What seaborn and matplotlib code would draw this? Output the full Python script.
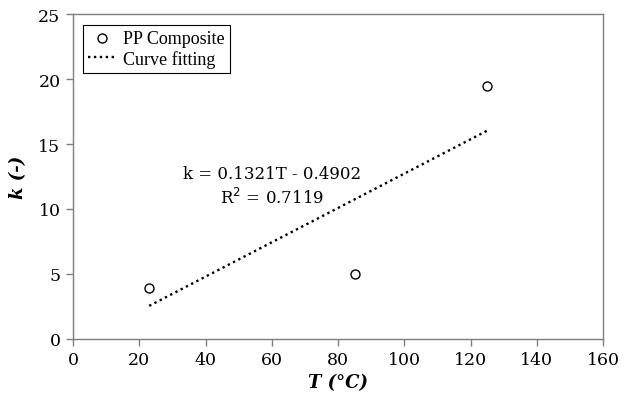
import matplotlib
matplotlib.use("Agg")
import matplotlib.pyplot as plt
import seaborn as sns
import numpy as np
import pandas as pd

# Data
temperature = [23, 85, 125]
k_values = [3.9, 5.0, 19.5]
fit_slope = 0.1321
fit_intercept = -0.4902
fit_x = [23, 125]
x_ticks = [0, 20, 40, 60, 80, 100, 120, 140, 160]
y_ticks = [0, 5, 10, 15, 20, 25]

sns.set_theme(style="white")
plt.rcParams['font.family'] = ['DejaVu Serif']
plt.rcParams['text.color'] = 'black'
plt.rcParams['axes.labelcolor'] = 'black'
plt.rcParams['xtick.color'] = 'black'
plt.rcParams['ytick.color'] = 'black'

df = pd.DataFrame({"T": temperature, "k": k_values})
fit_df = pd.DataFrame({"T": fit_x, "k": [fit_slope * t + fit_intercept for t in fit_x]})

fig = plt.figure(figsize=(6.25, 4.06), dpi=100)
ax = fig.add_axes([0.1168, 0.1626, 0.848, 0.8004])

sns.scatterplot(data=df, x="T", y="k", ax=ax, marker="o", s=42,
                facecolor="white", edgecolor="black", linewidth=1.0,
                label="PP Composite", zorder=3)
sns.lineplot(data=fit_df, x="T", y="k", ax=ax, color="black",
             linestyle=(0, (1, 1.5)), linewidth=1.7, label="Curve fitting")

ax.set_xlim(0, 160)
ax.set_ylim(0, 25)
ax.set_xticks(x_ticks)
ax.set_yticks(y_ticks)
ax.tick_params(axis="both", direction="out", length=5, width=1, color="#7f7f7f",
               labelsize=12.5, labelcolor="black", pad=4, left=True, bottom=True)
for sp in ax.spines.values():
    sp.set_color("#7f7f7f")
    sp.set_linewidth(1.0)

ax.set_xlabel("T (°C)", fontsize=13, fontweight="bold", fontstyle="italic", labelpad=3)
ax.set_ylabel("k (-)", fontsize=13, fontweight="bold", fontstyle="italic", labelpad=8)

ax.text(60.1, 12.7, "k = 0.1321T - 0.4902", ha="center", va="center", fontsize=12)
ax.text(60.1, 10.9, "R$^2$ = 0.7119", ha="center", va="center", fontsize=12)

leg = ax.legend(loc="upper left", bbox_to_anchor=(0.012, 0.978), frameon=True,
                fancybox=False, edgecolor="black", framealpha=1,
                prop={"family": "Liberation Serif", "size": 13},
                handlelength=1.5, handletextpad=0.4, borderpad=0.3,
                labelspacing=0.15, borderaxespad=0.2)
leg.get_frame().set_linewidth(0.8)

fig.savefig("out.png", dpi=100)
